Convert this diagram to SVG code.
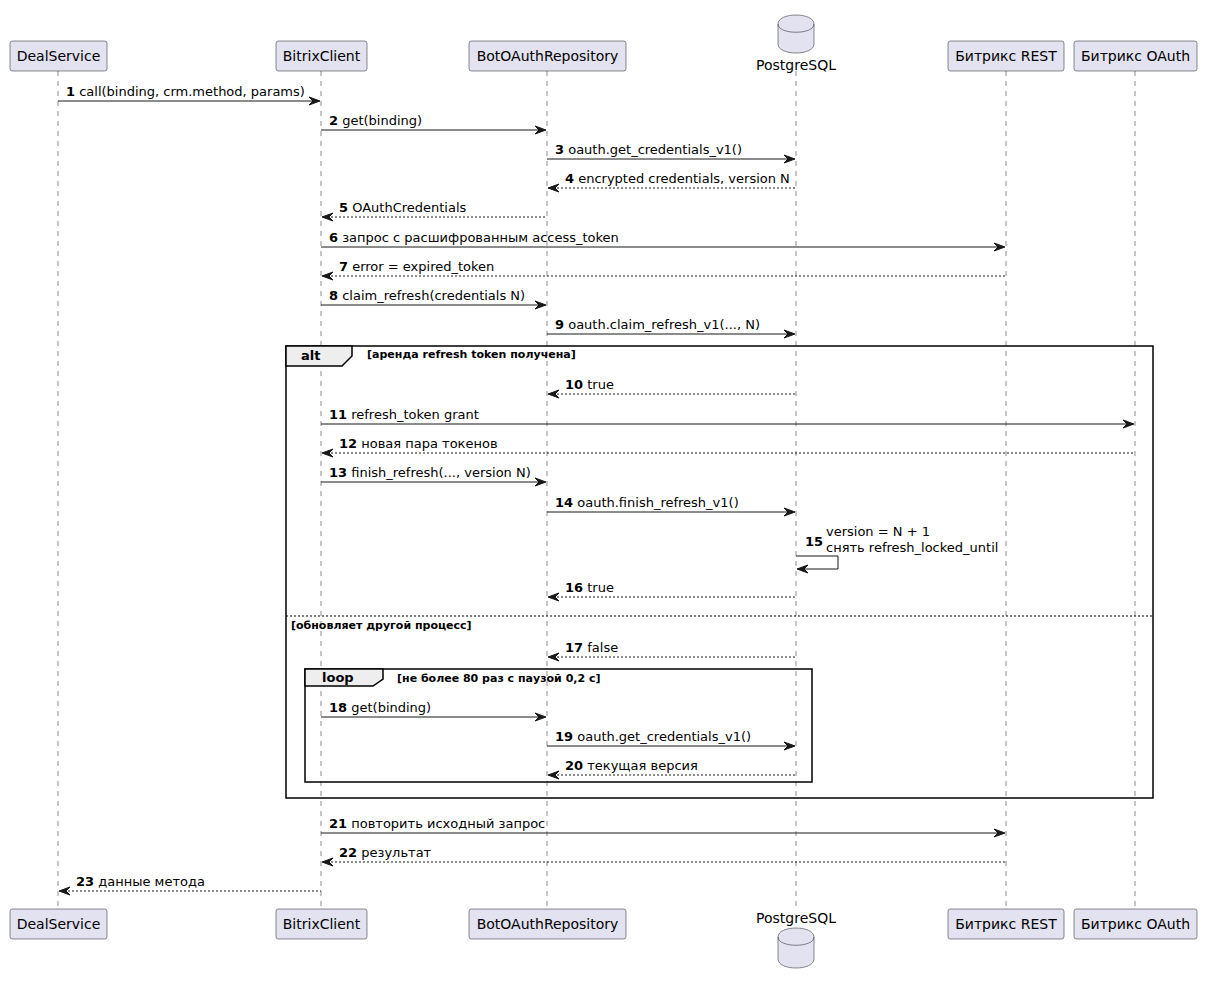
<svg xmlns="http://www.w3.org/2000/svg" width="1207" height="981" viewBox="0 0 1207 981">
<defs>
<style>
text{font-family:"DejaVu Sans","Liberation Sans",sans-serif;fill:#000}
.p{font-size:14px;fill:#000}
.m{font-size:13px}
.b{font-weight:bold}
.life{stroke:#181818;stroke-width:0.5;stroke-dasharray:5,5;fill:none}
.box{fill:#E2E2F0;stroke:#181818;stroke-width:0.5}
.msg{stroke:#181818;stroke-width:1;fill:none}
.ret{stroke:#181818;stroke-width:1;fill:none;stroke-dasharray:2,2}
.ah{fill:#181818;stroke:#181818;stroke-width:1}
.frame{fill:none;stroke:#000;stroke-width:1.5}
.tab{fill:#EEEEEE;stroke:#000;stroke-width:1.5}
.ft{font-size:13px;font-weight:bold}
.fc{font-size:11px;font-weight:bold}
</style>
</defs>
<rect width="1207" height="981" fill="#FFFFFF"/>
<g id="lifelines">
<line class="life" x1="58" y1="71" x2="58" y2="909"/>
<line class="life" x1="321" y1="71" x2="321" y2="909"/>
<line class="life" x1="547" y1="71" x2="547" y2="909"/>
<line class="life" x1="796" y1="71" x2="796" y2="909"/>
<line class="life" x1="1006" y1="71" x2="1006" y2="909"/>
<line class="life" x1="1135" y1="71" x2="1135" y2="909"/>
</g>
<g id="frames">
<rect class="frame" x="286" y="346" width="867" height="452"/>
<path class="tab" d="M286,346 L352,346 L352,356 L342,366 L286,366 Z"/>
<text class="ft" x="301" y="360">alt</text>
<text class="fc" x="367" y="358">[аренда refresh token получена]</text>
<line x1="286" y1="616" x2="1153" y2="616" stroke="#000" stroke-width="1" stroke-dasharray="2,2"/>
<text class="fc" x="291" y="629">[обновляет другой процесс]</text>
<rect class="frame" x="305" y="669" width="507" height="113"/>
<path class="tab" d="M305,669 L383,669 L383,679 L373,686 L305,686 Z"/>
<text class="ft" x="322" y="682">loop</text>
<text class="fc" x="397" y="682">[не более 80 раз с паузой 0,2 с]</text>
</g>
<g id="connectors">
<line class="msg" x1="58" y1="101" x2="319" y2="101"/><path class="ah" d="M309,97 L320,101 L309,105 L313,101 Z"/>
<text class="m" x="66" y="96"><tspan class="b">1</tspan> call(binding, crm.method, params)</text>
<line class="msg" x1="321" y1="130" x2="545" y2="130"/><path class="ah" d="M535,126 L546,130 L535,134 L539,130 Z"/>
<text class="m" x="329" y="125"><tspan class="b">2</tspan> get(binding)</text>
<line class="msg" x1="547" y1="159" x2="794" y2="159"/><path class="ah" d="M784,155 L795,159 L784,163 L788,159 Z"/>
<text class="m" x="555" y="154"><tspan class="b">3</tspan> oauth.get_credentials_v1()</text>
<line class="ret" x1="549" y1="188" x2="796" y2="188"/><path class="ah" d="M559,184 L548,188 L559,192 L555,188 Z"/>
<text class="m" x="565" y="183"><tspan class="b">4</tspan> encrypted credentials, version N</text>
<line class="ret" x1="323" y1="217" x2="547" y2="217"/><path class="ah" d="M333,213 L322,217 L333,221 L329,217 Z"/>
<text class="m" x="339" y="212"><tspan class="b">5</tspan> OAuthCredentials</text>
<line class="msg" x1="321" y1="247" x2="1004" y2="247"/><path class="ah" d="M994,243 L1005,247 L994,251 L998,247 Z"/>
<text class="m" x="329" y="242"><tspan class="b">6</tspan> запрос с расшифрованным access_token</text>
<line class="ret" x1="323" y1="276" x2="1006" y2="276"/><path class="ah" d="M333,272 L322,276 L333,280 L329,276 Z"/>
<text class="m" x="339" y="271"><tspan class="b">7</tspan> error = expired_token</text>
<line class="msg" x1="321" y1="305" x2="545" y2="305"/><path class="ah" d="M535,301 L546,305 L535,309 L539,305 Z"/>
<text class="m" x="329" y="300"><tspan class="b">8</tspan> claim_refresh(credentials N)</text>
<line class="msg" x1="547" y1="334" x2="794" y2="334"/><path class="ah" d="M784,330 L795,334 L784,338 L788,334 Z"/>
<text class="m" x="555" y="329"><tspan class="b">9</tspan> oauth.claim_refresh_v1(..., N)</text>
<line class="ret" x1="549" y1="394" x2="796" y2="394"/><path class="ah" d="M559,390 L548,394 L559,398 L555,394 Z"/>
<text class="m" x="565" y="389"><tspan class="b">10</tspan> true</text>
<line class="msg" x1="321" y1="424" x2="1133" y2="424"/><path class="ah" d="M1123,420 L1134,424 L1123,428 L1127,424 Z"/>
<text class="m" x="329" y="419"><tspan class="b">11</tspan> refresh_token grant</text>
<line class="ret" x1="323" y1="453" x2="1135" y2="453"/><path class="ah" d="M333,449 L322,453 L333,457 L329,453 Z"/>
<text class="m" x="339" y="448"><tspan class="b">12</tspan> новая пара токенов</text>
<line class="msg" x1="321" y1="482" x2="545" y2="482"/><path class="ah" d="M535,478 L546,482 L535,486 L539,482 Z"/>
<text class="m" x="329" y="477"><tspan class="b">13</tspan> finish_refresh(..., version N)</text>
<line class="msg" x1="547" y1="512" x2="794" y2="512"/><path class="ah" d="M784,508 L795,512 L784,516 L788,512 Z"/>
<text class="m" x="555" y="507"><tspan class="b">14</tspan> oauth.finish_refresh_v1()</text>
<polyline class="msg" points="796,556 838,556 838,569 798,569"/><path class="ah" d="M808,565 L797,569 L808,573 L804,569 Z"/>
<text class="m" x="805" y="546"><tspan class="b">15</tspan></text>
<text class="m" x="826" y="536">version = N + 1</text>
<text class="m" x="826" y="552">снять refresh_locked_until</text>
<line class="ret" x1="549" y1="597" x2="796" y2="597"/><path class="ah" d="M559,593 L548,597 L559,601 L555,597 Z"/>
<text class="m" x="565" y="592"><tspan class="b">16</tspan> true</text>
<line class="ret" x1="549" y1="657" x2="796" y2="657"/><path class="ah" d="M559,653 L548,657 L559,661 L555,657 Z"/>
<text class="m" x="565" y="652"><tspan class="b">17</tspan> false</text>
<line class="msg" x1="321" y1="717" x2="545" y2="717"/><path class="ah" d="M535,713 L546,717 L535,721 L539,717 Z"/>
<text class="m" x="329" y="712"><tspan class="b">18</tspan> get(binding)</text>
<line class="msg" x1="547" y1="746" x2="794" y2="746"/><path class="ah" d="M784,742 L795,746 L784,750 L788,746 Z"/>
<text class="m" x="555" y="741"><tspan class="b">19</tspan> oauth.get_credentials_v1()</text>
<line class="ret" x1="549" y1="775" x2="796" y2="775"/><path class="ah" d="M559,771 L548,775 L559,779 L555,775 Z"/>
<text class="m" x="565" y="770"><tspan class="b">20</tspan> текущая версия</text>
<line class="msg" x1="321" y1="833" x2="1004" y2="833"/><path class="ah" d="M994,829 L1005,833 L994,837 L998,833 Z"/>
<text class="m" x="329" y="828"><tspan class="b">21</tspan> повторить исходный запрос</text>
<line class="ret" x1="323" y1="862" x2="1006" y2="862"/><path class="ah" d="M333,858 L322,862 L333,866 L329,862 Z"/>
<text class="m" x="339" y="857"><tspan class="b">22</tspan> результат</text>
<line class="ret" x1="60" y1="891" x2="321" y2="891"/><path class="ah" d="M70,887 L59,891 L70,895 L66,891 Z"/>
<text class="m" x="76" y="886"><tspan class="b">23</tspan> данные метода</text>
</g>
<g id="DealService">
<rect class="box" x="10" y="41" width="97" height="30" rx="2.5"/>
<text class="p" x="58.5" y="61" text-anchor="middle">DealService</text>
<rect class="box" x="10" y="909" width="97" height="30" rx="2.5"/>
<text class="p" x="58.5" y="929" text-anchor="middle">DealService</text>
</g>
<g id="BitrixClient">
<rect class="box" x="276" y="41" width="91" height="30" rx="2.5"/>
<text class="p" x="321.5" y="61" text-anchor="middle">BitrixClient</text>
<rect class="box" x="276" y="909" width="91" height="30" rx="2.5"/>
<text class="p" x="321.5" y="929" text-anchor="middle">BitrixClient</text>
</g>
<g id="BotOAuthRepository">
<rect class="box" x="469" y="41" width="157" height="30" rx="2.5"/>
<text class="p" x="547.5" y="61" text-anchor="middle">BotOAuthRepository</text>
<rect class="box" x="469" y="909" width="157" height="30" rx="2.5"/>
<text class="p" x="547.5" y="929" text-anchor="middle">BotOAuthRepository</text>
</g>
<g id="PostgreSQL">
<path class="box" d="M778,24 C778,12 814,12 814,24 L814,44 C814,56 778,56 778,44 Z"/>
<path fill="none" stroke="#181818" stroke-width="0.5" d="M778,24 C778,35 814,35 814,24"/>
<text class="p" x="796" y="70" text-anchor="middle">PostgreSQL</text>
<text class="p" x="796" y="923" text-anchor="middle">PostgreSQL</text>
<path class="box" d="M778,937 C778,925 814,925 814,937 L814,959 C814,971 778,971 778,959 Z"/>
<path fill="none" stroke="#181818" stroke-width="0.5" d="M778,937 C778,948 814,948 814,937"/>
</g>
<g id="BitrixREST">
<rect class="box" x="948" y="41" width="116" height="30" rx="2.5"/>
<text class="p" x="1006" y="61" text-anchor="middle">Битрикс REST</text>
<rect class="box" x="948" y="909" width="116" height="30" rx="2.5"/>
<text class="p" x="1006" y="929" text-anchor="middle">Битрикс REST</text>
</g>
<g id="BitrixOAuth">
<rect class="box" x="1074" y="41" width="123" height="30" rx="2.5"/>
<text class="p" x="1135.5" y="61" text-anchor="middle">Битрикс OAuth</text>
<rect class="box" x="1074" y="909" width="123" height="30" rx="2.5"/>
<text class="p" x="1135.5" y="929" text-anchor="middle">Битрикс OAuth</text>
</g>
</svg>
